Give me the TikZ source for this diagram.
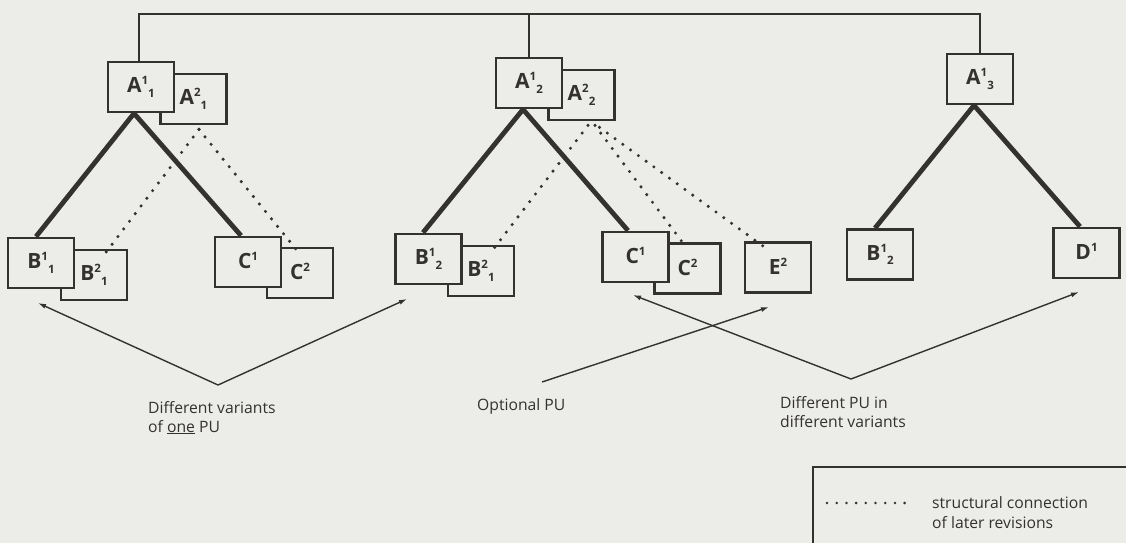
\documentclass[tikz,border=0pt]{standalone}
\usepackage{fontspec}
\setmainfont{Open Sans}
\usetikzlibrary{arrows.meta}
\definecolor{paper}{RGB}{236,236,233}
\definecolor{ink}{RGB}{52,50,46}
% unit label with revision (superscript) and position (subscript)
\newcommand{\pu}[3]{\raisebox{3pt}{#1\raisebox{0.37em}{\fontsize{11.5}{11.5}\selectfont #2}\raisebox{-0.22em}{\fontsize{11.5}{11.5}\selectfont #3}}}
\newcommand{\pv}[2]{\raisebox{3pt}{#1\raisebox{0.37em}{\fontsize{11.5}{11.5}\selectfont #2}}}
\begin{document}
\begin{tikzpicture}[x=1pt,y=-1pt,
  unit/.style={draw=ink, fill=paper, line width=2.8pt, minimum width=66pt,
    minimum height=50pt, inner sep=0pt, text=ink, font=\fontsize{21}{23}\selectfont\bfseries},
  bus/.style={draw=ink, line width=2pt},
  strong/.style={draw=ink, line width=4.8pt, line join=round},
  later/.style={draw=ink, line width=3.4pt, line cap=round, dash pattern=on 0pt off 9.6pt},
  pointer/.style={draw=ink, line width=1.4pt, -{Latex[length=8pt,width=5pt]}},
  caption/.style={text=ink, anchor=base west, inner sep=0pt, font=\fontsize{15.7}{18}\selectfont},
]
\useasboundingbox[fill=paper] (0,0) rectangle (1126,543);

% ---- product units (revision 2 boxes lie behind revision 1) ----
\node[unit] (A21)  at (193.5,99)  {\pu{A}{2}{1}};
\node[unit] (A11)  at (141,87)    {\pu{A}{1}{1}};
\node[unit] (A22)  at (581.5,95)  {\pu{A}{2}{2}};
\node[unit] (A12)  at (529,83)    {\pu{A}{1}{2}};
\node[unit] (A13)  at (980,79)    {\pu{A}{1}{3}};

\node[unit] (B21a) at (94,275)    {\pu{B}{2}{1}};
\node[unit] (B11)  at (41,263)    {\pu{B}{1}{1}};
\node[unit] (C2a)  at (300,273)   {\pv{C}{2}};
\node[unit] (C1a)  at (248,262)   {\pv{C}{1}};

\node[unit] (B21b) at (481,271)   {\pu{B}{2}{1}};
\node[unit] (B12a) at (428.5,259) {\pu{B}{1}{2}};
\node[unit] (C2b)  at (687.5,268.5) {\pv{C}{2}};
\node[unit] (C1b)  at (635.5,257) {\pv{C}{1}};
\node[unit] (E2)   at (778,267.5) {\pv{E}{2}};

\node[unit] (B12b) at (880,254.5) {\pu{B}{1}{2}};
\node[unit] (D1)   at (1086.5,253) {\pv{D}{1}};

% ---- top-level bus ----
\draw[bus] ([xshift=-2pt]A11.north) |- (A13.north |- 0,14) -- (A13.north);
\draw[bus] (A12.north) -- (A12.north |- 0,14);

% ---- structure of revision 1 ----
\draw[strong] ([xshift=-5pt]B11.north) -- ([xshift=-7pt]A11.south) -- ([xshift=-7pt]C1a.north);
\draw[strong] ([xshift=-5.5pt]B12a.north) -- ([xshift=-6pt]A12.south) -- ([xshift=-7.5pt]C1b.north);
\draw[strong] ([xshift=-5pt]B12b.north) -- ([xshift=-6pt]A13.south) -- ([xshift=-6.5pt]D1.north);

% ---- structural connection of later revisions ----
\draw[later] ([xshift=5.5pt,yshift=-4pt]A21.south) -- ([xshift=11pt,yshift=-5pt]B21a.north);
\draw[later] ([xshift=5.5pt,yshift=-4pt]A21.south) -- ([xshift=-2pt,yshift=-5pt]C2a.north);
\draw[later] ([xshift=6.5pt,yshift=-4pt]A22.south) -- ([xshift=12pt,yshift=-5pt]B21b.north);
\draw[later] ([xshift=13.5pt,yshift=-4pt]A22.south) -- ([xshift=-1.5pt,yshift=-5pt]C2b.north);
\draw[later] ([xshift=18pt,yshift=-6pt]A22.south) -- ([xshift=-15pt,yshift=-5pt]E2.north);

% ---- annotation pointers ----
\coordinate (v1) at (218,385);
\coordinate (t1a) at (38,303);
\coordinate (t1b) at (407,299);
\coordinate (o1) at (542,382);
\coordinate (to1) at (769,307);
\coordinate (v3) at (851,379);
\coordinate (t3a) at (633,295);
\coordinate (t3b) at (1079,292);
\draw[pointer] (v1) -- (t1a);
\draw[pointer] (v1) -- (t1b);
\draw[pointer] (o1) -- (to1);
\draw[pointer] (v3) -- (t3a);
\draw[pointer] (v3) -- (t3b);

\node[caption] (cap1a) at (148,413) {Different variants};
\node[caption] (cap1b) at (148,432) {of \underline{one} PU};
\node[caption] (cap2)  at (477,410) {Optional PU};
\node[caption] (cap3a) at (780,408) {Different PU in};
\node[caption] (cap3b) at (780,427) {different variants};

% ---- legend ----
\draw[bus] (1126,467) -- (813,467) -- (813,543);
\coordinate (lg1) at (827,503);
\coordinate (lg2) at (905,503);
\draw[line width=2.8pt, line cap=round, draw=ink, dash pattern=on 0pt off 9.7pt] (lg1) -- (lg2);
\node[caption] (leg1) at (932,508) {structural connection};
\node[caption] (leg2) at (932,528) {of later revisions};
\end{tikzpicture}
\end{document}
